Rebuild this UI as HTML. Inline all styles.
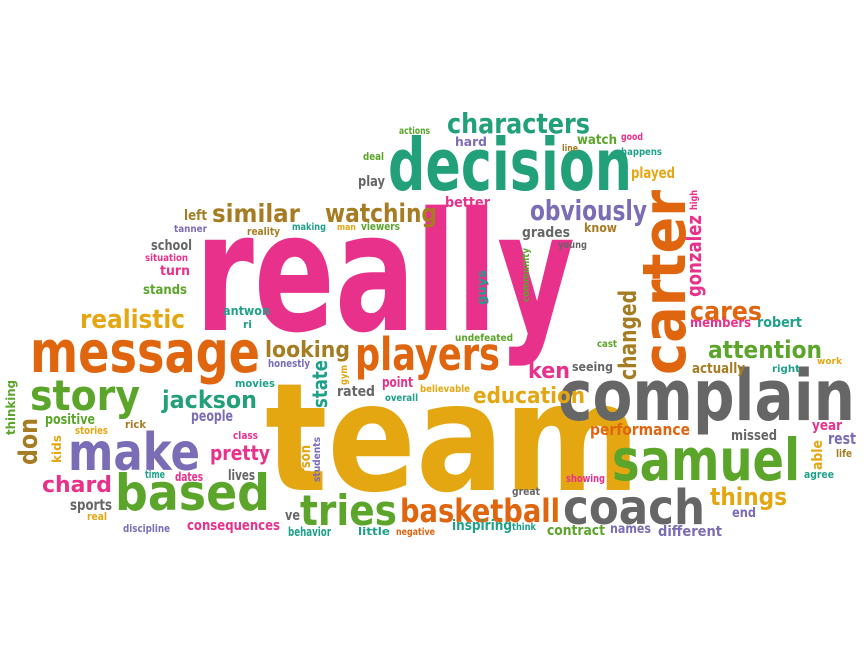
<!DOCTYPE html>
<html><head><meta charset="utf-8"><style>
html,body{margin:0;padding:0;background:#fff;width:864px;height:648px;overflow:hidden}
svg text{font-family:"DejaVu Sans","Liberation Sans",sans-serif;font-weight:bold}
</style></head><body>
<svg id="cloud" width="864" height="648" viewBox="0 0 864 648" xmlns="http://www.w3.org/2000/svg"></svg>
<script>
var P="#e8318b",O="#e0650f",T="#22a07a",G="#5aa52a",Y="#e4a611",U="#7a6cb5",R="#666666",B="#a67c22",C="#1fa08a";
// word, x, baseline, font-size, length, color, vertical
var words=[
["really",195,330,165,380,P,0],["team",265,490,150,375,Y,0],["complain",558,420,70,297,R,0],
["decision",388,190,72,244,T,0],["carter",685,375,60,185,O,1],["message",30,372,58,230,O,0],
["players",355,370,45,145,O,0],["samuel",612,480,58,188,G,0],["coach",563,524,48,142,R,0],
["based",115,510,50,155,G,0],["make",68,470,52,132,U,0],["story",30,410,42,110,G,0],
["tries",300,525,42,97,G,0],["basketball",400,522,32,160,O,0],["characters",447,133,28,143,T,0],
["obviously",530,220,28,117,U,0],["watching",325,222,26,112,B,0],["similar",212,222,25,88,B,0],
["realistic",80,328,26,105,Y,0],["looking",265,357,22,85,B,0],["jackson",162,408,24,95,T,0],
["education",473,403,22,112,Y,0],["attention",708,358,24,114,G,0],["ken",528,378,22,42,P,0],
["changed",636,380,24,90,B,1],["cares",690,320,26,72,O,0],["things",710,505,24,77,Y,0],
["pretty",210,460,20,60,P,0],["chard",42,492,22,70,P,0],["performance",590,435,16,100,O,0],
["missed",731,440,14,46,R,0],["year",812,430,14,30,P,0],["rest",828,444,16,28,U,0],
["life",836,457,11,16,B,0],["able",822,470,14,30,Y,1],["agree",804,478,11,30,C,0],
["end",732,517,13,24,U,0],["different",658,536,14,64,U,0],["names",610,533,13,41,U,0],
["contract",547,535,14,58,G,0],["think",512,530,10,24,C,0],["inspiring",452,530,14,60,C,0],
["great",512,495,11,28,R,0],["showing",566,482,11,39,P,0],["negative",396,535,10,39,O,0],
["little",358,535,11,32,C,0],["behavior",288,536,12,43,C,0],["ve",285,520,14,15,R,0],
["consequences",187,530,14,93,P,0],["discipline",123,532,11,47,U,0],["sports",70,510,15,42,R,0],
["real",87,520,11,20,Y,0],["time",145,478,11,20,C,0],["dates",175,481,12,28,P,0],
["lives",228,480,14,27,R,0],["class",233,439,11,25,P,0],["people",191,421,15,42,U,0],
["rick",125,428,11,21,B,0],["positive",45,424,14,50,G,0],["stories",75,434,11,33,Y,0],
["thinking",15,435,12,55,G,1],["don",37,465,26,47,B,1],["kids",61,463,12,28,Y,1],
["person",310,490,14,45,Y,1],["students",320,482,10,45,U,1],["state",327,408,20,48,C,1],
["gym",347,385,10,20,Y,1],["movies",235,387,11,40,C,0],["honestly",268,367,11,42,U,0],
["rated",337,396,14,38,R,0],["point",382,387,14,31,P,0],["overall",385,401,10,33,C,0],
["believable",420,392,10,50,Y,0],["undefeated",455,341,10,58,G,0],["cast",597,347,10,20,G,0],
["seeing",572,371,12,41,R,0],["actually",692,373,14,53,B,0],["right",772,372,10,28,C,0],
["work",817,364,9,25,Y,0],["members",690,327,13,61,P,0],["robert",757,327,14,45,C,0],
["gonzalez",701,297,20,82,P,1],["high",697,210,10,20,P,1],["guys",486,305,12,35,C,1],
["community",529,302,10,54,G,1],["young",558,248,10,29,R,0],["grades",522,237,14,48,R,0],
["know",584,232,12,33,B,0],["better",445,207,14,45,P,0],["played",631,178,15,44,Y,0],
["happens",621,155,10,41,C,0],["good",621,140,10,22,P,0],["watch",577,144,13,40,G,0],
["line",562,151,9,16,B,0],["hard",455,146,12,32,U,0],["actions",399,134,10,31,G,0],
["deal",363,160,11,21,G,0],["play",358,186,14,27,R,0],["left",184,220,14,23,B,0],
["tanner",174,232,10,33,U,0],["reality",247,235,11,33,B,0],["making",292,230,10,34,C,0],
["man",337,230,9,19,Y,0],["viewers",361,230,11,39,G,0],["school",151,250,14,41,R,0],
["situation",145,261,10,43,P,0],["turn",160,275,13,30,P,0],["stands",143,294,13,44,G,0],
["antwon",223,315,12,47,C,0],["ri",243,328,11,9,C,0]
];
var svg=document.getElementById("cloud"),NS="http://www.w3.org/2000/svg";
words.forEach(function(w){
  var t=document.createElementNS(NS,"text");
  
  
  t.setAttribute("x",w[1]);t.setAttribute("y",w[2]);
  t.setAttribute("font-size",w[3]);t.setAttribute("fill",w[5]);
  t.setAttribute("textLength",w[4]);t.setAttribute("lengthAdjust","spacingAndGlyphs");
  if(w[6]) t.setAttribute("transform","rotate(-90 "+w[1]+" "+w[2]+")");
  t.textContent=w[0];
  svg.appendChild(t);
});
</script>
</body></html>
